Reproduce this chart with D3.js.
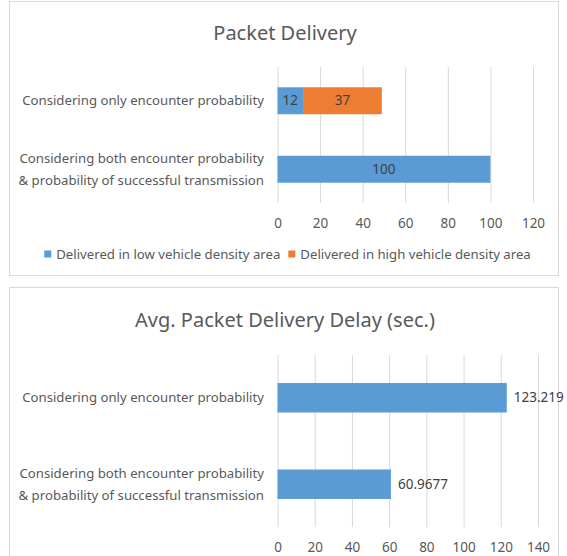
<!DOCTYPE html>
<html><head><meta charset="utf-8">
<script src="https://cdn.jsdelivr.net/npm/d3@7"></script>
<style>
html,body{margin:0;padding:0;background:#fff;}
text{font-family:"Noto Sans","Open Sans",sans-serif;}
</style></head>
<body>
<svg id="c" width="567" height="556"></svg>
<script>
// ---- Data ----
const categories = [
  ["Considering only encounter probability"],
  ["Considering both encounter probability", "& probability of successful transmission"]
];
const deliveryLow = [12, 100];
const deliveryHigh = [37, 0];
const deliverySeries = ["Delivered in low vehicle density area", "Delivered in high vehicle density area"];
const deliveryTicks = [0, 20, 40, 60, 80, 100, 120];
const delayValues = [123.219, 60.9677];
const delayLabels = ["123.219", "60.9677"];
const delayTicks = [0, 20, 40, 60, 80, 100, 120, 140];
const titles = ["Packet Delivery", "Avg. Packet Delivery Delay (sec.)"];

const BLUE = "#5B9BD5", ORANGE = "#ED7D31", TXT = "#595959", LBL = "#404040", GRID = "#d9d9d9";
const svg = d3.select("#c");
const catKeys = categories.map((c, i) => "c" + i);

function panel(y0, y1) {
  svg.append("rect").attr("x", 9.5).attr("y", y0 + 0.5).attr("width", 549).attr("height", y1 - y0)
    .attr("fill", "#fff").attr("stroke", GRID).attr("stroke-width", 1);
}

function drawCats(g, y) {
  categories.forEach((lines, i) => {
    const cy = y(catKeys[i]) + y.bandwidth() / 2;
    const t = g.append("text").attr("text-anchor", "end").attr("fill", TXT).attr("font-size", 13.2);
    lines.forEach((ln, j) => {
      t.append("tspan").attr("x", 264).attr("y", cy + (j - (lines.length - 1) / 2) * 22).attr("dy", "0.35em").text(ln);
    });
  });
}

function drawGrid(g, x, ticks, yTop, yBot, yLab) {
  const ax = d3.axisBottom(x).tickValues(ticks).tickSize(-(yBot - yTop)).tickPadding(yLab - yBot);
  const a = g.append("g").attr("transform", `translate(0,${yBot})`).call(ax);
  a.select(".domain").remove();
  a.selectAll(".tick line").attr("stroke", GRID).attr("stroke-width", 1);
  a.selectAll(".tick text").attr("fill", TXT).attr("font-size", 13.5).attr("dy", "0.35em")
    .attr("font-family", '"Noto Sans","Open Sans",sans-serif');
}

// ---- Chart 1 ----
panel(1, 275);
{
  const g = svg.append("g");
  g.append("text").attr("x", 285).attr("y", 33).attr("dy", "0.35em").attr("text-anchor", "middle")
    .attr("fill", TXT).attr("font-size", 20).text(titles[0]);
  const x = d3.scaleLinear().domain([0, 120]).range([277.5, 533]);
  const y = d3.scaleBand().domain(catKeys).range([67, 203]).paddingInner(0.606).paddingOuter(0.296);
  drawGrid(g, x, deliveryTicks, 67, 203, 223);
  const rows = catKeys.map((k, i) => ({ k, low: deliveryLow[i], high: deliveryHigh[i] }));
  rows.forEach(r => {
    const yy = y(r.k), h = y.bandwidth();
    g.append("rect").attr("x", x(0)).attr("y", yy).attr("width", x(r.low) - x(0)).attr("height", h).attr("fill", BLUE);
    g.append("text").attr("x", (x(0) + x(r.low)) / 2).attr("y", yy + h / 2).attr("dy", "0.35em")
      .attr("text-anchor", "middle").attr("fill", LBL).attr("font-size", 13.5).text(r.low);
    if (r.high > 0) {
      g.append("rect").attr("x", x(r.low)).attr("y", yy).attr("width", x(r.low + r.high) - x(r.low)).attr("height", h).attr("fill", ORANGE);
      g.append("text").attr("x", (x(r.low) + x(r.low + r.high)) / 2).attr("y", yy + h / 2).attr("dy", "0.35em")
        .attr("text-anchor", "middle").attr("fill", LBL).attr("font-size", 13.5).text(r.high);
    }
  });
  drawCats(g, y);
  // legend
  const lg = g.append("g");
  const cols = [BLUE, ORANGE];
  let cx = 0;
  deliverySeries.forEach((s, i) => {
    const it = lg.append("g").attr("transform", `translate(${cx},0)`);
    it.append("rect").attr("x", 0).attr("y", -3.5).attr("width", 7).attr("height", 7).attr("fill", cols[i]);
    const t = it.append("text").attr("x", 12).attr("y", 0).attr("dy", "0.35em").attr("fill", TXT).attr("font-size", 13.2).text(s);
    cx += 12 + t.node().getComputedTextLength() + 8;
  });
  const total = cx - 8;
  lg.attr("transform", `translate(${287.5 - total / 2},254)`);
}

// ---- Chart 2 ----
panel(287, 560);
{
  const g = svg.append("g");
  g.append("text").attr("x", 285).attr("y", 320).attr("dy", "0.35em").attr("text-anchor", "middle")
    .attr("fill", TXT).attr("font-size", 20).text(titles[1]);
  const x = d3.scaleLinear().domain([0, 140]).range([277.5, 538]);
  const y = d3.scaleBand().domain(catKeys).range([355, 527]).paddingInner(0.659).paddingOuter(0.324);
  drawGrid(g, x, delayTicks, 355, 527, 547);
  catKeys.forEach((k, i) => {
    const yy = y(k), h = y.bandwidth();
    g.append("rect").attr("x", x(0)).attr("y", yy).attr("width", x(delayValues[i]) - x(0)).attr("height", h).attr("fill", BLUE);
    g.append("text").attr("x", x(delayValues[i]) + 7).attr("y", yy + h / 2).attr("dy", "0.35em")
      .attr("fill", LBL).attr("font-size", 13.5).text(delayLabels[i]);
  });
  drawCats(g, y);
}
</script>
</body></html>
